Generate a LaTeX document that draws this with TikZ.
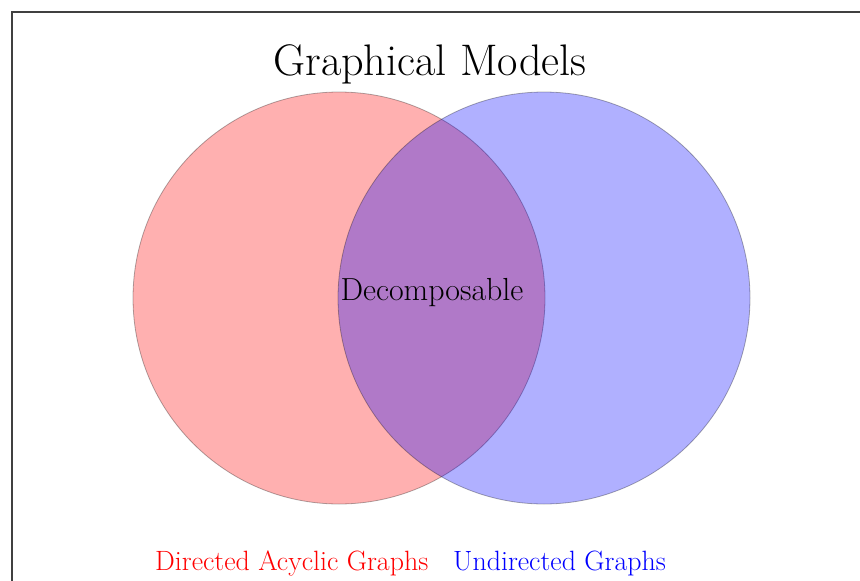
\documentclass[tikz,border=0pt]{standalone}
\tikzset{
  setcirc/.style={circle, minimum size=412pt, inner sep=0pt, draw=black, fill=#1, opacity=0.31, line width=0.8pt},
  title/.style={anchor=base, inner sep=0pt, font=\fontsize{44.2}{52}\selectfont},
  inner/.style={anchor=base, inner sep=0pt, font=\fontsize{31.9}{38}\selectfont},
  lbl/.style={anchor=base west, inner sep=0pt, font=\fontsize{27.9}{33}\selectfont},
}
\begin{document}
\begin{tikzpicture}[x=1pt,y=-1pt]
\useasboundingbox (0,0) rectangle (860,581);
\draw[line width=2pt, black!75] (11.5,581) -- (11.5,12) -- (861,12);
\node[setcirc=red] (dag) at (339,298) {};
\node[setcirc=blue] (ug) at (544,298) {};
\node[title] (t) at (430,75) {Graphical Models};
\node[inner] (dec) at (432,300) {Decomposable};
\node[lbl, text=red] (ldag) at (155,570) {Directed Acyclic Graphs};
\node[lbl, text=blue] (lug) at (453,570) {Undirected Graphs};
\end{tikzpicture}
\end{document}
